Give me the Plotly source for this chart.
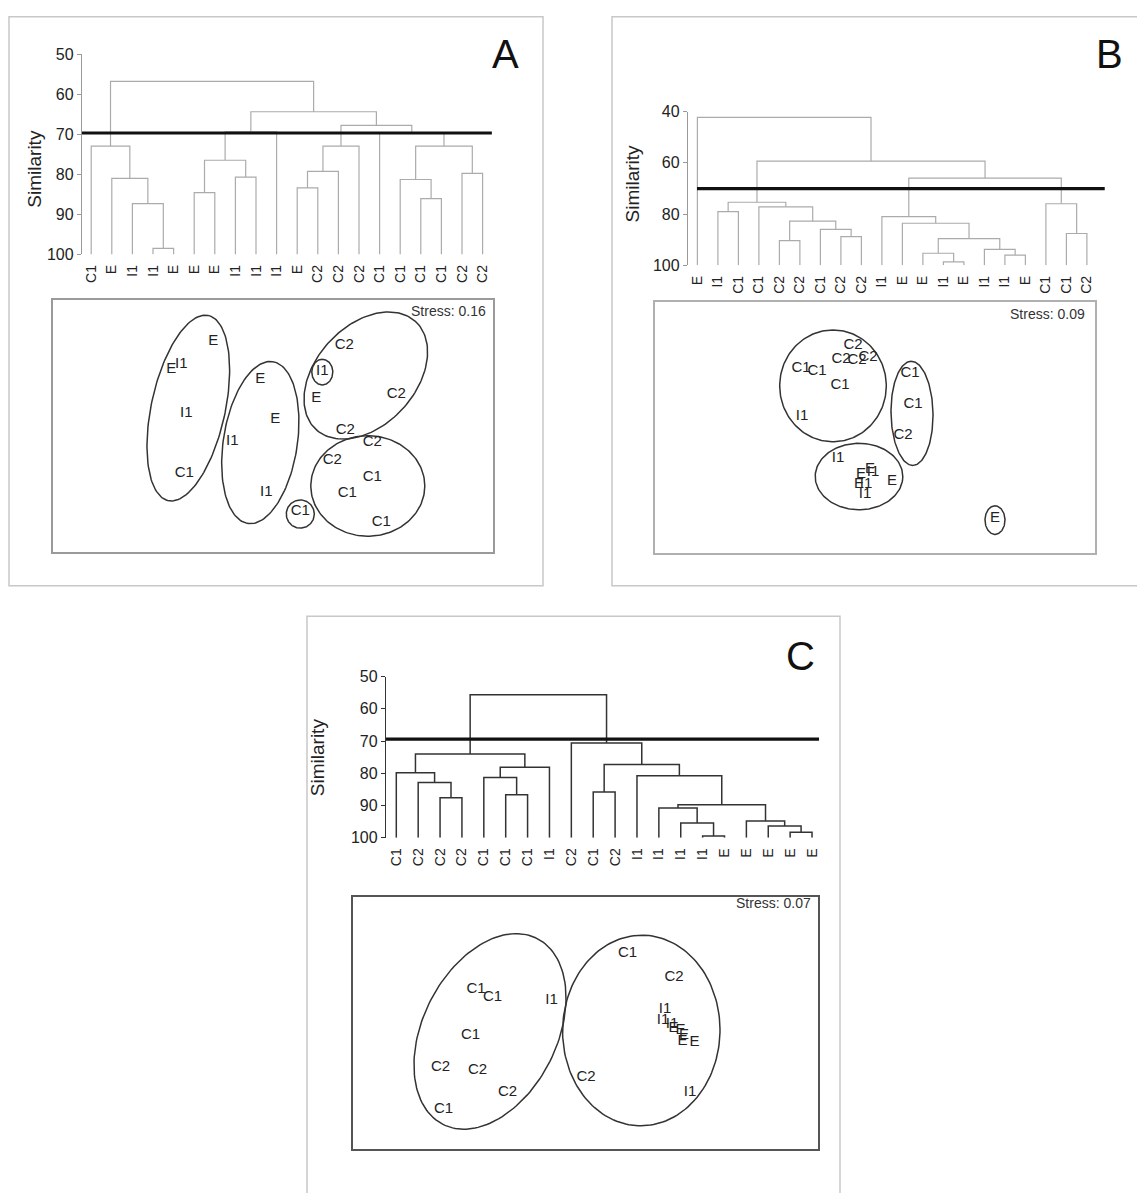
import numpy as np
import plotly.graph_objects as go

W, H = 1137, 1193
FONT = "Liberation Sans, Arial, Helvetica, sans-serif"

# ---------------- Panel A ----------------
leaves_a = ["C1", "E", "I1", "I1", "E", "E", "E", "I1", "I1", "I1",
            "E", "C2", "C2", "C2", "C1", "C1", "C1", "C1", "C2", "C2"]
# (left node, right node, similarity); new nodes are numbered from 20 upwards
merges_a = [(3, 4, 98.5), (2, 20, 87.3), (1, 21, 81.0), (0, 22, 73.0),
            (5, 6, 84.6), (7, 8, 80.7), (24, 25, 76.5), (26, 9, 69.4),
            (10, 11, 83.4), (28, 12, 79.3), (29, 13, 73.0),
            (16, 17, 86.1), (15, 31, 81.3), (18, 19, 79.8), (32, 33, 73.0),
            (14, 34, 69.8), (30, 35, 67.8), (27, 36, 64.4), (23, 37, 56.8)]
cut_a = 69.7
cut_span_a = (-0.45, 19.45)
sim_ticks_a = [50, 60, 70, 80, 90, 100]
stress_a = "Stress: 0.16"
mds_lab_a = ["E", "E", "I1", "I1", "C1", "E", "E", "I1", "I1", "C2",
             "I1", "E", "C2", "C2", "C2", "C2", "C1", "C1", "C1", "C1"]
mds_x_a = [-0.60, -1.02, -0.92, -0.87, -0.89, -0.13, 0.02, -0.41, -0.07, 0.71,
           0.49, 0.43, 1.23, 0.72, 0.99, 0.59, 0.99, 0.74, 0.27, 1.08]
mds_y_a = [0.86, 0.57, 0.62, 0.13, -0.48, 0.47, 0.07, -0.16, -0.67, 0.82,
           0.55, 0.28, 0.32, -0.04, -0.17, -0.35, -0.52, -0.68, -0.87, -0.98]
# group outlines: (centre x, centre y, semi-major, semi-minor, angle in degrees)
groups_a = [(-0.85, 0.18, 0.96, 0.37, 78), (-0.13, -0.17, 0.83, 0.37, 81.4),
            (0.925, 0.51, 0.74, 0.50, 48.3), (0.945, -0.61, 0.57, 0.51, 0),
            (0.49, 0.545, 0.13, 0.105, 90), (0.27, -0.895, 0.143, 0.14, 90)]

# ---------------- Panel B ----------------
leaves_b = ["E", "I1", "C1", "C1", "C2", "C2", "C1", "C2", "C2", "I1",
            "E", "E", "I1", "E", "I1", "I1", "E", "C1", "C1", "C2"]
merges_b = [(1, 2, 79.1), (4, 5, 90.4), (7, 8, 88.8), (6, 22, 86.0),
            (21, 23, 82.8), (3, 24, 77.2), (20, 25, 75.4),
            (12, 13, 98.7), (11, 27, 95.3), (15, 16, 96.0), (14, 29, 93.8),
            (28, 30, 89.6), (10, 31, 83.6), (9, 32, 81.0),
            (18, 19, 87.6), (17, 34, 76.0), (33, 35, 66.0), (26, 36, 59.4),
            (0, 37, 42.3)]
cut_b = 70.1
cut_span_b = (-0.02, 19.87)
sim_ticks_b = [40, 60, 80, 100]
stress_b = "Stress: 0.09"
mds_lab_b = ["C2", "C2", "C2", "C2", "C1", "C1", "C1", "I1", "C1", "C1",
             "C2", "I1", "E", "E", "I1", "E", "I1", "I1", "E", "E"]
mds_x_b = [-0.22, -0.34, -0.18, -0.07, -0.74, -0.58, -0.35, -0.73, 0.35, 0.38,
           0.28, -0.37, -0.14, -0.05, -0.02, -0.16, -0.09, -0.10, 0.17, 1.20]
mds_y_b = [0.84, 0.69, 0.68, 0.72, 0.60, 0.57, 0.43, 0.12, 0.55, 0.24,
           -0.08, -0.31, -0.47, -0.42, -0.45, -0.57, -0.57, -0.67, -0.54, -0.92]
groups_b = [(-0.42, 0.425, 0.567, 0.533, 90), (0.37, 0.146, 0.528, 0.21, 91),
            (-0.16, -0.495, 0.438, 0.337, 0), (1.20, -0.937, 0.145, 0.10, 90)]

# ---------------- Panel C ----------------
leaves_c = ["C1", "C2", "C2", "C2", "C1", "C1", "C1", "I1", "C2", "C1",
            "C2", "I1", "I1", "I1", "I1", "E", "E", "E", "E", "E"]
merges_c = [(2, 3, 87.6), (1, 20, 82.9), (0, 21, 79.8),
            (5, 6, 86.7), (4, 23, 81.3), (24, 7, 78.1), (22, 25, 74.0),
            (9, 10, 85.8), (14, 15, 99.5), (13, 28, 95.4), (12, 29, 90.8),
            (18, 19, 98.3), (17, 31, 96.4), (16, 32, 94.8), (30, 33, 89.8),
            (11, 34, 80.8), (27, 35, 77.3), (8, 36, 70.6), (26, 37, 55.6)]
cut_c = 69.4
cut_span_c = (-0.47, 19.32)
sim_ticks_c = [50, 60, 70, 80, 90, 100]
stress_c = "Stress: 0.07"
mds_lab_c = ["C1", "C1", "I1", "C1", "C2", "C2", "C2", "C1",
             "C1", "C2", "C2", "I1", "I1", "I1", "I1", "E", "E", "E", "E", "E"]
mds_x_c = [-1.095, -0.93, -0.34, -1.15, -1.45, -1.08, -0.78, -1.42,
           0.42, 0.885, 0.005, 1.045, 0.795, 0.775, 0.865, 0.88, 0.95, 0.985, 0.97, 1.09]
mds_y_c = [0.345, 0.26, 0.23, -0.13, -0.45, -0.48, -0.70, -0.88,
           0.705, 0.46, -0.555, -0.705, 0.135, 0.025, -0.015, -0.055, -0.075, -0.125, -0.19, -0.195]
groups_c = [(-0.955, -0.087, 1.054, 0.672, 64), (0.558, -0.078, 0.967, 0.787, 89)]


def dendro_lines(n, merges):
    """Elbow segments of a dendrogram; leaves sit at similarity 100."""
    pos = [(float(i), 100.0) for i in range(n)]
    xs, ys = [], []
    for left, right, h in merges:
        xl, hl = pos[left]
        xr, hr = pos[right]
        xs += [xl, xl, xr, xr, None]
        ys += [hl, h, h, hr, None]
        pos.append(((xl + xr) / 2, h))
    return xs, ys


def ellipse_lines(groups, n=160):
    xs, ys = [], []
    t = np.linspace(0, 2 * np.pi, n)
    for cx, cy, a, b, ang in groups:
        th = np.radians(ang)
        x = cx + a * np.cos(t) * np.cos(th) - b * np.sin(t) * np.sin(th)
        y = cy + a * np.cos(t) * np.sin(th) + b * np.sin(t) * np.cos(th)
        xs += list(x) + [None]
        ys += list(y) + [None]
    return xs, ys


def xdom(p0, p1):
    return [p0 / W, p1 / W]


def ydom(p_top, p_bot):
    return [1 - p_bot / H, 1 - p_top / H]


fig = go.Figure()
layout_axes = {}
annotations = []


def axis_key(kind, n):
    return kind + ("axis" if n == 1 else f"axis{n}")


def ref(kind, n):
    return kind if n == 1 else f"{kind}{n}"


def add_dendrogram(n, leaves, merges, cut, cut_span, ticks, geom, line_col, line_w, axis_col):
    axis_px, right_px, leaf0_px, step, top_px, bot_px = geom
    xs, ys = dendro_lines(len(leaves), merges)
    xr, yr = ref("x", n), ref("y", n)
    fig.add_trace(go.Scatter(x=xs, y=ys, mode="lines", xaxis=xr, yaxis=yr,
                             line=dict(color=line_col, width=line_w), hoverinfo="skip",
                             showlegend=False))
    fig.add_trace(go.Scatter(x=list(cut_span), y=[cut, cut], mode="lines", xaxis=xr, yaxis=yr,
                             line=dict(color="#111111", width=3.2), hoverinfo="skip",
                             showlegend=False))
    x0 = (axis_px - leaf0_px) / step
    x1 = (right_px - leaf0_px) / step
    layout_axes[axis_key("x", n)] = dict(
        domain=xdom(axis_px, right_px), range=[x0, x1], anchor=yr,
        showgrid=False, zeroline=False, showline=False,
        tickmode="array", tickvals=list(range(len(leaves))), ticktext=leaves,
        tickangle=-90, ticks="outside", ticklen=4, tickcolor="rgba(0,0,0,0)",
        tickfont=dict(family=FONT, size=14, color="#222222"), fixedrange=True)
    layout_axes[axis_key("y", n)] = dict(
        domain=ydom(top_px, bot_px), range=[100, ticks[0]], anchor=xr,
        showgrid=False, zeroline=False, showline=True, linecolor=axis_col, linewidth=1.3,
        tickmode="array", tickvals=ticks, ticks="outside", ticklen=4, tickcolor=axis_col,
        tickfont=dict(family=FONT, size=16, color="#222222"), fixedrange=True)


def add_mds(n, labels, xs, ys, groups, stress, box, box_col, stress_shift):
    l, t, r, b = box
    xr, yr = ref("x", n), ref("y", n)
    ex, ey = ellipse_lines(groups)
    fig.add_trace(go.Scatter(x=ex, y=ey, mode="lines", xaxis=xr, yaxis=yr,
                             line=dict(color="#333333", width=1.5), hoverinfo="skip",
                             showlegend=False))
    fig.add_trace(go.Scatter(x=xs, y=ys, mode="text", text=labels, xaxis=xr, yaxis=yr,
                             textposition="middle center",
                             textfont=dict(family=FONT, size=15, color="#222222"),
                             hoverinfo="skip", showlegend=False, cliponaxis=False))
    hw, hh = (r - l) / 200, (b - t) / 200
    common = dict(showgrid=False, zeroline=False, showticklabels=False, ticks="",
                  showline=True, mirror=True, linecolor=box_col, linewidth=1.5,
                  fixedrange=True)
    layout_axes[axis_key("x", n)] = dict(domain=xdom(l, r), range=[-hw, hw], anchor=yr, **common)
    layout_axes[axis_key("y", n)] = dict(domain=ydom(t, b), range=[-hh, hh], anchor=xr, **common)
    annotations.append(dict(text=stress, xref=f"{xr} domain", yref=f"{yr} domain",
                            x=1, y=1, xanchor="right", yanchor="middle",
                            xshift=stress_shift[0], yshift=stress_shift[1], showarrow=False,
                            font=dict(family=FONT, size=14, color="#333333")))


# dendrograms: (axis px, right px, first leaf px, leaf step, top px, bottom px)
add_dendrogram(1, leaves_a, merges_a, cut_a, cut_span_a, sim_ticks_a,
               (82, 495, 91.2, 20.6, 46.7, 250), "#ababab", 1.2, "#9a9a9a")
add_dendrogram(3, leaves_b, merges_b, cut_b, cut_span_b, sim_ticks_b,
               (688, 1108, 697.4, 20.5, 105, 261), "#ababab", 1.2, "#9a9a9a")
add_dendrogram(5, leaves_c, merges_c, cut_c, cut_span_c, sim_ticks_c,
               (386, 822, 396.3, 21.88, 678.3, 841.7), "#333333", 1.5, "#333333")

# ordination plots: box (left, top, right, bottom) in px
add_mds(2, mds_lab_a, mds_x_a, mds_y_a, groups_a, stress_a,
        (53.3, 296, 493.3, 551.7), "#9a9a9a", (-5, -11))
add_mds(4, mds_lab_b, mds_x_b, mds_y_b, groups_b, stress_b,
        (655, 298.3, 1095, 553.3), "#b0b0b0", (-8, -12))
add_mds(6, mds_lab_c, mds_x_c, mds_y_c, groups_c, stress_c,
        (352.7, 902, 818.3, 1157), "#555555", (-5, -6))

# axis titles and panel letters
for x_px, y_px in [(35, 163), (632, 178), (317, 760)]:
    annotations.append(dict(text="Similarity", textangle=-90, xref="paper", yref="paper",
                            x=x_px / W, y=1 - y_px / H, xanchor="center", yanchor="middle",
                            showarrow=False, font=dict(family=FONT, size=19, color="#222222")))
for letter, x_px, y_px in [("A", 505, 47), ("B", 1109, 47), ("C", 800, 657)]:
    annotations.append(dict(text=letter, xref="paper", yref="paper",
                            x=x_px / W, y=1 - y_px / H, xanchor="center", yanchor="middle",
                            showarrow=False, font=dict(family=FONT, size=40, color="#111111")))

# panel frames
shapes = []
for l, t, r, b in [(9, 9, 543, 586), (612, 9, 1146, 586), (307, 617, 840, 1205)]:
    shapes.append(dict(type="rect", xref="paper", yref="paper",
                       x0=l / W, x1=r / W, y0=1 - b / H, y1=1 - t / H,
                       line=dict(color="#c8c8c8", width=1.5), fillcolor="rgba(0,0,0,0)",
                       layer="below"))

fig.update_layout(width=W, height=H, margin=dict(l=0, r=0, t=0, b=0),
                  paper_bgcolor="white", plot_bgcolor="rgba(0,0,0,0)",
                  showlegend=False, annotations=annotations, shapes=shapes,
                  font=dict(family=FONT), **layout_axes)

fig.write_html("out.html")
